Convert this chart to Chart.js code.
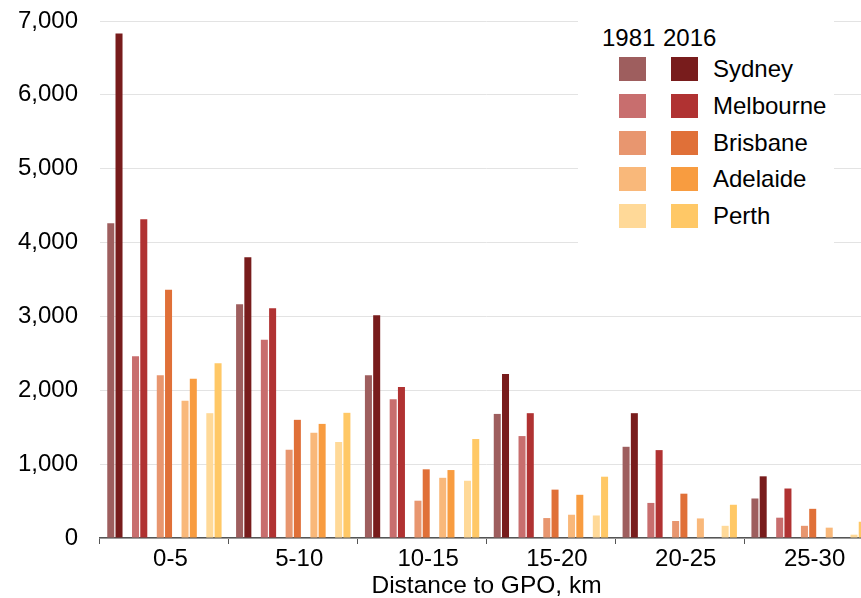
<!DOCTYPE html>
<html>
<head>
<meta charset="utf-8">
<script src="https://cdn.jsdelivr.net/npm/chart.js@4"></script>
<style>
  body { margin: 0; overflow: hidden; background: #fff; font-family: "Liberation Sans", Arial, sans-serif; }
  #wrap { position: relative; width: 873px; height: 598px; }
  #legend { position: absolute; left: 578px; top: 10px; width: 256px; height: 238px; background: #fff; color: #000; font-size: 24px; }
  #legend div { position: absolute; }
  .yr { line-height: 24px; }
  .sw { width: 27px; height: 24px; }
  .lbl { line-height: 24px; white-space: nowrap; }
</style>
</head>
<body>
<div id="wrap">
  <canvas id="myChart" width="873" height="598"></canvas>
  <div id="legend"></div>
</div>
<script>
// categories and series
const categories = ['0-5', '5-10', '10-15', '15-20', '20-25', '25-30'];
const cities = ['Sydney', 'Melbourne', 'Brisbane', 'Adelaide', 'Perth'];
const years = ['1981', '2016'];

const sydney1981 = [4260, 3165, 2205, 1680, 1235, 535];
const sydney2016 = [6830, 3800, 3015, 2220, 1690, 835];
const melbourne1981 = [2460, 2685, 1880, 1380, 475, 275];
const melbourne2016 = [4315, 3110, 2045, 1690, 1190, 670];
const brisbane1981 = [2205, 1195, 505, 270, 230, 165];
const brisbane2016 = [3360, 1600, 930, 655, 600, 395];
const adelaide1981 = [1860, 1425, 815, 315, 265, 140];
const adelaide2016 = [2155, 1545, 920, 585, null, null];
const perth1981 = [1690, 1300, 775, 305, 165, 45];
const perth2016 = [2365, 1695, 1340, 830, 450, 220];

const yTicks = [0, 1000, 2000, 3000, 4000, 5000, 6000, 7000];

const colors1981 = ['#9e5e5e', '#c86e6e', '#e8966f', '#f9b87a', '#ffd998'];
const colors2016 = ['#781c1c', '#b03232', '#e07038', '#f89c40', '#ffc866'];

const values1981 = [sydney1981, melbourne1981, brisbane1981, adelaide1981, perth1981];
const values2016 = [sydney2016, melbourne2016, brisbane2016, adelaide2016, perth2016];

// build datasets: pairs per city with an empty slot between pairs
const datasets = [];
cities.forEach((city, i) => {
    datasets.push({ label: city + ' ' + years[0], data: values1981[i], backgroundColor: colors1981[i] });
    datasets.push({ label: city + ' ' + years[1], data: values2016[i], backgroundColor: colors2016[i] });
    if (i < cities.length - 1) {
        datasets.push({ label: '', data: [], backgroundColor: 'rgba(0,0,0,0)' });
    }
});

const font = { family: '"Liberation Sans", Arial, sans-serif', size: 24, lineHeight: 1 };

new Chart(document.getElementById('myChart').getContext('2d'), {
    type: 'bar',
    data: { labels: categories, datasets: datasets },
    options: {
        responsive: false,
        animation: false,
        categoryPercentage: 0.897,
        barPercentage: 0.85,
        layout: { padding: { top: 21, right: 0, bottom: 0, left: 0 } },
        plugins: { legend: { display: false }, tooltip: { enabled: false } },
        scales: {
            x: {
                grid: { offset: true, drawOnChartArea: false, drawTicks: true, tickLength: 6, color: '#555' },
                border: { display: true, color: '#555', width: 1.5 },
                ticks: { color: '#000', font: font, padding: 3, maxRotation: 0, labelOffset: 6 },
                title: {
                    display: true, text: 'Distance to GPO, km', color: '#000',
                    font: { family: font.family, size: 24.5, lineHeight: 1 },
                    padding: { top: 0, bottom: 0 }
                },
                afterFit: (scale) => { scale.height = 60; }
            },
            y: {
                min: 0,
                max: 7000,
                afterBuildTicks: (scale) => { scale.ticks = yTicks.map(v => ({ value: v })); },
                grid: { color: '#e3e3e3', drawTicks: false, lineWidth: 1 },
                border: { display: false },
                ticks: {
                    color: '#000', font: font, padding: 22,
                    callback: (v) => v.toLocaleString('en-US')
                },
                afterFit: (scale) => {
                    scale.width = 100;
                    scale.paddingTop = 0;
                    scale.paddingBottom = 0;
                }
            }
        }
    }
});

// legend
const legend = document.getElementById('legend');
const lx = 578, ly = 10;
function add(cls, left, top, html, bg) {
    const d = document.createElement('div');
    d.className = cls;
    d.style.left = (left - lx) + 'px';
    d.style.top = (top - ly) + 'px';
    if (html) d.textContent = html;
    if (bg) d.style.background = bg;
    legend.appendChild(d);
}
add('yr', 602, 26, years[0]);
add('yr', 663, 26, years[1]);
cities.forEach((city, i) => {
    const top = 57 + i * 36.75;
    add('sw', 619, top, null, colors1981[i]);
    add('sw', 671, top, null, colors2016[i]);
    add('lbl', 713, top, city);
});
</script>
</body>
</html>
